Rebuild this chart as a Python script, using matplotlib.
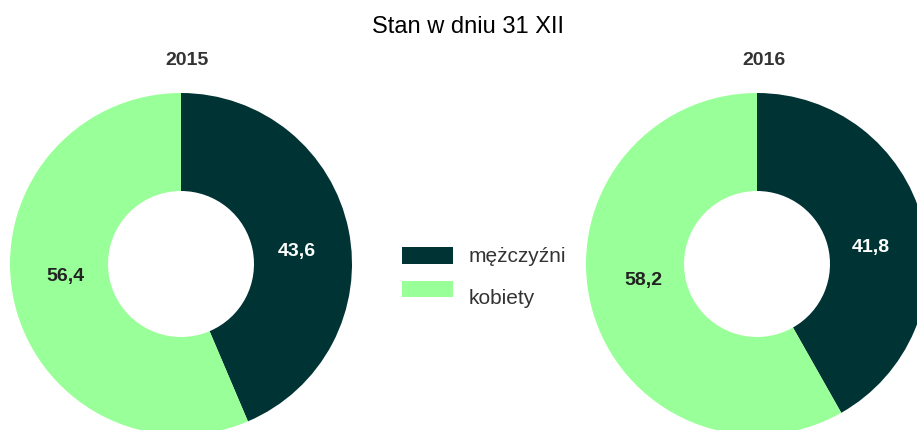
import matplotlib
matplotlib.use("Agg")
import matplotlib.pyplot as plt
import numpy as np

plt.rcParams['font.family'] = ['Liberation Sans', 'DejaVu Sans']

title = "Stan w dniu 31 XII"
years = ["2015", "2016"]
categories = ["mężczyźni", "kobiety"]
values_2015 = [43.6, 56.4]
values_2016 = [41.8, 58.2]
colors = ["#003333", "#99FF99"]
label_colors = ["white", "#222222"]

W, H = 917, 430
fig = plt.figure(figsize=(W / 100, H / 100), dpi=100)
fig.patch.set_facecolor("white")

R = 171
centers = [(181, 264), (757, 264)]
title_x = [187, 764]

wedges_ref = None
for (cx, cy), vals, yr, tx in zip(centers, [values_2015, values_2016], years, title_x):
    ax = fig.add_axes([(cx - R) / W, (H - cy - R) / H, 2 * R / W, 2 * R / H])
    wedges, _ = ax.pie(vals, colors=colors, startangle=90, counterclock=False,
                       radius=1, wedgeprops=dict(width=1 - 73 / 171, linewidth=0))
    for w in wedges:
        w.set_clip_on(False)
    wedges_ref = wedges
    total = sum(vals)
    cum = 0
    for i, v in enumerate(vals):
        mid = (cum + v / 2) / total * 360
        cum += v
        ang = np.deg2rad(90 - mid)
        r = 0.69
        ax.text(r * np.cos(ang), 0.55 * r * np.sin(ang), f"{v:.1f}".replace(".", ","),
                ha="center", va="center", fontsize=14, fontweight="bold",
                color=label_colors[i])
    ax.set_xlim(-1, 1)
    ax.set_ylim(-1, 1)
    ax.set_aspect("equal")
    ax.axis("off")
    fig.text(tx / W, 1 - 60.5 / H, yr, ha="center", va="center",
             fontsize=14, fontweight="bold", color="#333333")

fig.text(468 / W, 1 - 27 / H, title, ha="center", va="center",
         fontsize=17, color="black")

# legend keys (labels drawn separately to match reference placement)
leg = fig.legend(wedges_ref, categories, loc="upper left",
                 bbox_to_anchor=(402 / W, 1 - 247 / H), frameon=False,
                 fontsize=15, handlelength=2.45, handleheight=0.87,
                 handletextpad=0.72, labelspacing=0.67, borderpad=0,
                 borderaxespad=0)
for t in leg.get_texts():
    t.set_text("")

for lab, base in zip(categories, [262, 304]):
    fig.text(469 / W, 1 - base / H, lab, ha="left", va="baseline",
             fontsize=15, color="#333333")

fig.savefig("out.png", dpi=100, facecolor="white")
